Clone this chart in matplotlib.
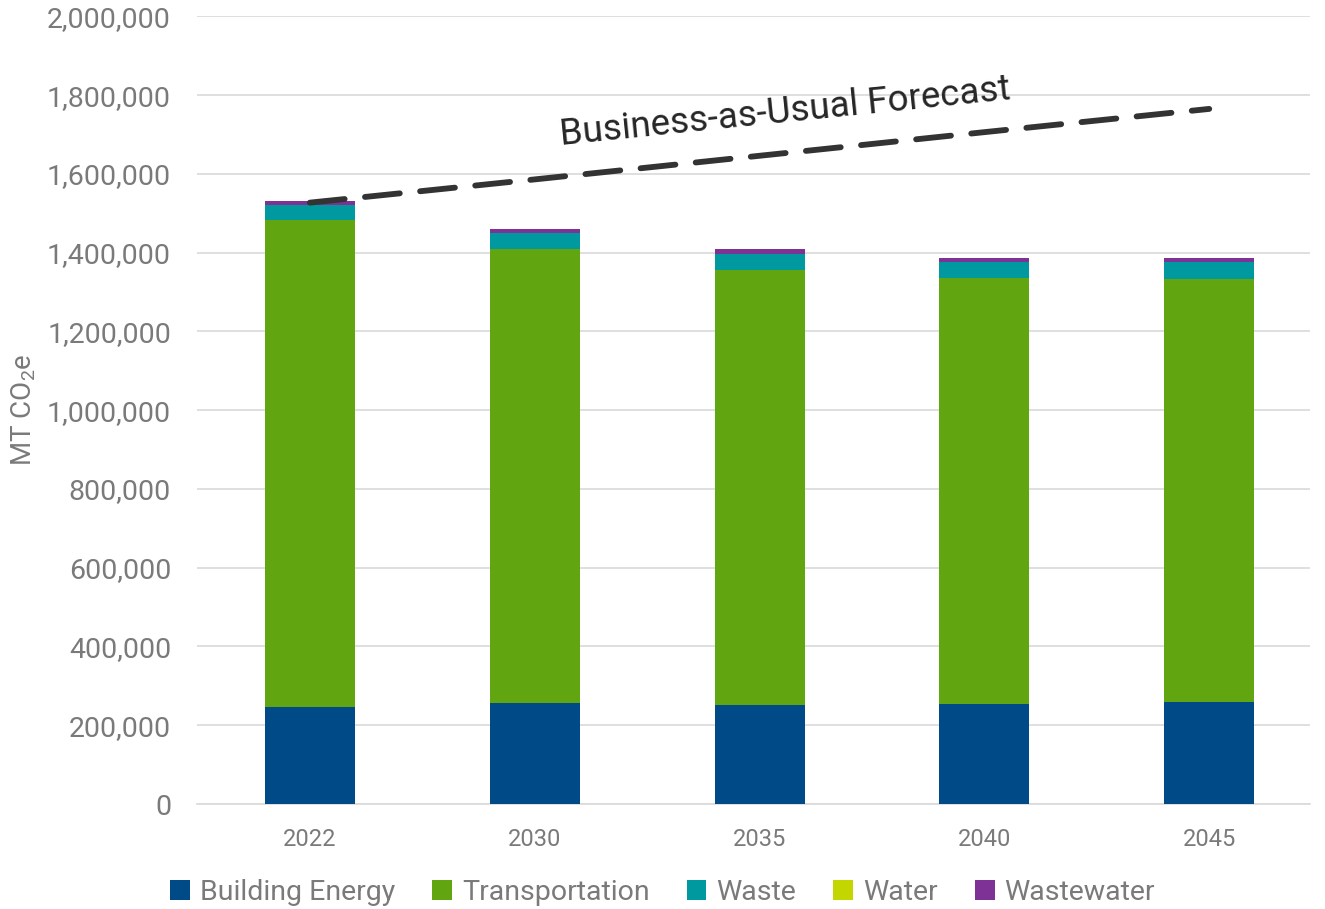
import numpy as np
import matplotlib.pyplot as plt
from matplotlib.ticker import FuncFormatter

plt.rcParams['font.family'] = ['Roboto', 'DejaVu Sans']
plt.rcParams['mathtext.fontset'] = 'custom'
plt.rcParams['mathtext.rm'] = 'Roboto'

# Emissions by sector, MT CO2e
years = ['2022', '2030', '2035', '2040', '2045']
building_energy = [246000, 256000, 251000, 254000, 259000]
transportation = [1236000, 1153000, 1104000, 1081000, 1073000]
waste = [38000, 40000, 41000, 41000, 44000]
water = [1500, 1500, 1500, 1500, 1500]
wastewater = [8500, 8500, 11500, 9500, 8500]

# Business-as-usual trajectory
bau = [1527000, 1586000, 1646000, 1706000, 1765000]

sectors = ['Building Energy', 'Transportation', 'Waste', 'Water', 'Wastewater']
colors = ['#004a87', '#61a611', '#00999f', '#c4d600', '#7f3296']
series = [building_energy, transportation, waste, water, wastewater]

text_gray = '#7a7a7a'

fig = plt.figure(figsize=(13.25, 9.09), dpi=100)
ax = fig.add_axes([0.149, 0.1155, 0.84, 0.8665])

x = np.arange(len(years))
bottom = np.zeros(len(years))
for name, vals, c in zip(sectors, series, colors):
    ax.bar(x, vals, width=0.4, bottom=bottom, color=c, label=name, zorder=3)
    bottom += np.array(vals)

ax.plot(x, bau, color='#333333', linewidth=4.2, dashes=(6, 3.5), zorder=4,
        solid_capstyle='round', dash_capstyle='round')
ax.text(2.115, 1756000, 'Business-as-Usual Forecast', fontsize=26.5, color='#262626',
        rotation=5.8, ha='center', va='center', zorder=5)

ax.set_ylim(0, 2000000)
ax.set_xlim(-0.5, 4.45)
ax.set_yticks(np.arange(0, 2000001, 200000))
ax.yaxis.set_major_formatter(FuncFormatter(lambda v, p: f'{int(v):,}'))
ax.set_xticks(x)
ax.set_xticklabels(years)
ax.tick_params(axis='y', length=0, labelsize=20.5, labelcolor=text_gray, pad=19)
ax.tick_params(axis='x', length=0, labelsize=17, labelcolor=text_gray, pad=17)
ax.grid(axis='y', color='#d9d9d9', linewidth=1.2, zorder=0)
for side in ['top', 'right', 'left']:
    ax.spines[side].set_visible(False)
ax.spines['bottom'].set_color('#d9d9d9')
ax.spines['bottom'].set_linewidth(1.2)

ax.set_ylabel('MT CO$_2$e', fontsize=20, color=text_gray)
ax.yaxis.set_label_coords(-0.143, 0.5)

fig.legend(loc='center', bbox_to_anchor=(0.5, 0.018), ncol=5, frameon=False,
           fontsize=20.5, labelcolor=text_gray, handlelength=0.7, handleheight=0.7,
           handletextpad=0.35, columnspacing=1.3)

plt.savefig('out.png', dpi=100)
